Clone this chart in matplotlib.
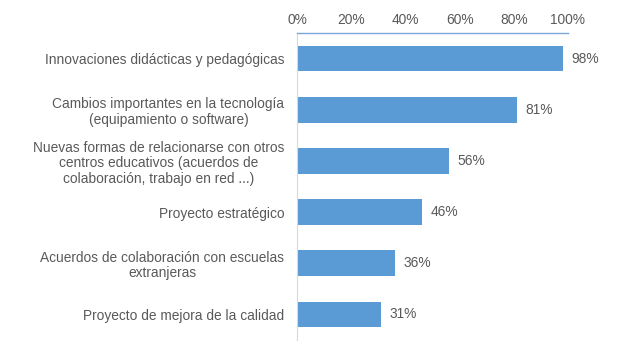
import matplotlib
matplotlib.use("Agg")
import matplotlib.pyplot as plt
from matplotlib.ticker import FuncFormatter

categories = [
    "Innovaciones didácticas y pedagógicas",
    "Cambios importantes en la tecnología\n(equipamiento o software)",
    "Nuevas formas de relacionarse con otros\ncentros educativos (acuerdos de\ncolaboración, trabajo en red ...)",
    "Proyecto estratégico",
    "Acuerdos de colaboración con escuelas\nextranjeras",
    "Proyecto de mejora de la calidad",
]
values = [98, 81, 56, 46, 36, 31]
xticks = [0, 20, 40, 60, 80, 100]

plt.rcParams['font.family'] = ['Liberation Sans', 'DejaVu Sans']
txt = '#595959'
bar_color = '#5B9BD5'
fs = 9.9

fig = plt.figure(figsize=(6.2, 3.46), dpi=100)
ax = fig.add_axes([297/620, 1-340/346, (568-297)/620, (340-33)/346])

y = list(range(len(categories)))
ax.barh(y, values, height=0.5, color=bar_color)
ax.set_ylim(len(categories) - 0.5, -0.5)
ax.set_xlim(0, 100)
ax.set_yticks(y)
ax.set_yticklabels(categories, fontsize=fs, color=txt, multialignment='center', linespacing=1.15)
ax.tick_params(axis='y', length=0, pad=9)

ax.xaxis.tick_top()
ax.set_xticks(xticks)
ax.xaxis.set_major_formatter(FuncFormatter(lambda v, p: f"{int(v)}%"))
ax.tick_params(axis='x', length=0, pad=4, labelsize=fs, labelcolor=txt)

for s in ['right', 'bottom']:
    ax.spines[s].set_visible(False)
ax.spines['left'].set_color('#d9d9d9')
ax.spines['top'].set_color('#7aa6d8')
ax.spines['top'].set_linewidth(1.0)

for yi, v in zip(y, values):
    ax.text(v + 3.3, yi, f"{v}%", va='center', ha='left', fontsize=fs, color=txt)

fig.savefig("out.png", dpi=100)
